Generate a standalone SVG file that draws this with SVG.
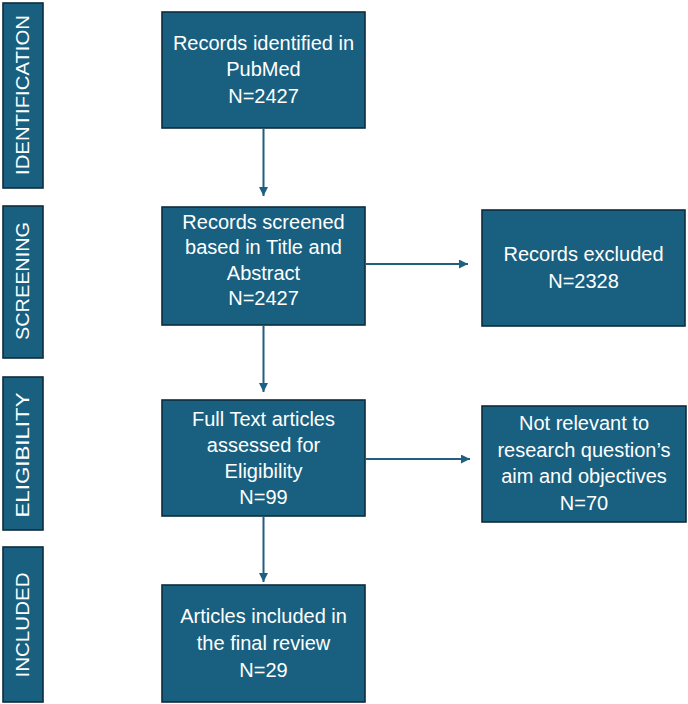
<svg xmlns="http://www.w3.org/2000/svg" width="688" height="704" viewBox="0 0 688 704">
<defs>
<style>
.box{fill:#185F80;stroke:#0E2C3D;stroke-width:1.6}
.t{fill:#FFFFFF;font-family:"Liberation Sans",Arial,sans-serif;font-size:20px;text-anchor:middle}
.s{fill:#FFFFFF;font-family:"Liberation Sans",Arial,sans-serif;font-size:18.5px;text-anchor:middle}
.c{stroke:#1F5F80;stroke-width:2;fill:none}
</style>
<marker id="ah" viewBox="0 0 10 10" refX="10" refY="5" markerWidth="4.5" markerHeight="4.5" orient="auto" markerUnits="strokeWidth">
<path d="M0,0 L10,5 L0,10 z" fill="#1F5F80"/>
</marker>
</defs>
<rect width="688" height="704" fill="#FFFFFF"/>

<g id="stage-identification">
<rect class="box" x="3" y="3" width="40" height="185"/>
<text class="s" transform="translate(29,95) rotate(-90)" textLength="160" lengthAdjust="spacingAndGlyphs">IDENTIFICATION</text>
</g>
<g id="stage-screening">
<rect class="box" x="3" y="206" width="40" height="152"/>
<text class="s" transform="translate(29,281) rotate(-90)" textLength="118" lengthAdjust="spacingAndGlyphs">SCREENING</text>
</g>
<g id="stage-eligibility">
<rect class="box" x="3" y="377" width="40" height="153"/>
<text class="s" transform="translate(29,455) rotate(-90)" textLength="125" lengthAdjust="spacingAndGlyphs">ELIGIBILITY</text>
</g>
<g id="stage-included">
<rect class="box" x="3" y="547" width="40" height="155"/>
<text class="s" transform="translate(29,625) rotate(-90)" textLength="105" lengthAdjust="spacingAndGlyphs">INCLUDED</text>
</g>

<g id="identified">
<rect class="box" x="162" y="12" width="203" height="116"/>
<text class="t" x="263.5" y="50">Records identified in</text>
<text class="t" x="263.5" y="76">PubMed</text>
<text class="t" x="263.5" y="103">N=2427</text>
</g>
<g id="screened">
<rect class="box" x="162" y="207" width="203" height="118"/>
<text class="t" x="263.5" y="229">Records screened</text>
<text class="t" x="263.5" y="254">based in Title and</text>
<text class="t" x="263.5" y="280">Abstract</text>
<text class="t" x="263.5" y="305">N=2427</text>
</g>
<g id="excluded">
<rect class="box" x="482" y="210" width="203" height="116"/>
<text class="t" x="583.5" y="261">Records excluded</text>
<text class="t" x="583.5" y="288">N=2328</text>
</g>
<g id="fulltext">
<rect class="box" x="162" y="400" width="203" height="116"/>
<text class="t" x="263.5" y="426">Full Text articles</text>
<text class="t" x="263.5" y="452">assessed for</text>
<text class="t" x="263.5" y="478">Eligibility</text>
<text class="t" x="263.5" y="504">N=99</text>
</g>
<g id="notrelevant">
<rect class="box" x="482" y="406" width="204" height="116"/>
<text class="t" x="584" y="430">Not relevant to</text>
<text class="t" x="584" y="457">research question’s</text>
<text class="t" x="584" y="483">aim and objectives</text>
<text class="t" x="584" y="510">N=70</text>
</g>
<g id="included">
<rect class="box" x="162" y="585" width="203" height="117"/>
<text class="t" x="263.5" y="623">Articles included in</text>
<text class="t" x="263.5" y="650">the final review</text>
<text class="t" x="263.5" y="677">N=29</text>
</g>

<g id="connectors">
<line class="c" x1="263.5" y1="129" x2="263.5" y2="196" marker-end="url(#ah)"/>
<line class="c" x1="263.5" y1="326" x2="263.5" y2="392" marker-end="url(#ah)"/>
<line class="c" x1="263.5" y1="517" x2="263.5" y2="582" marker-end="url(#ah)"/>
<line class="c" x1="366" y1="264" x2="468" y2="264" marker-end="url(#ah)"/>
<line class="c" x1="366" y1="459" x2="470" y2="459" marker-end="url(#ah)"/>
</g>
</svg>
